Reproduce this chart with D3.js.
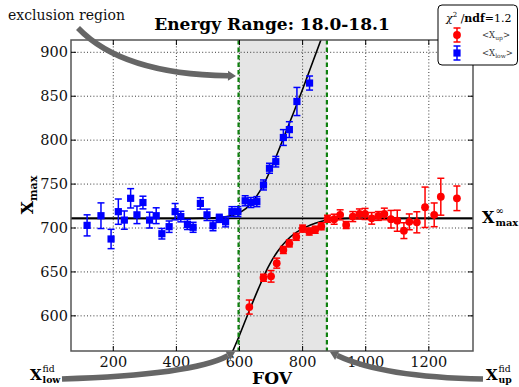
<!DOCTYPE html>
<html><head><meta charset="utf-8">
<script src="https://cdn.jsdelivr.net/npm/d3@7"></script>
<style>body{margin:0;background:#fff}svg{display:block}</style>
</head><body><svg id="c" width="519" height="387"></svg>
<script>
// ---- data ----
const blueFOV  = [117,161,193,216,235,255,275,294,315,336,354,377,396,414,435,453,476,497,516,536,556,576,595,618,636,655,676,695,715,739,758,782,822];
const blueXmax = [703,714,687.5,718.6,709,733.8,715,729,709,714,693.5,701.5,718.6,713,704,700.8,728,715,702.6,711,707,718.6,718.6,731,729,730,749,768,775.5,803,812,844,865];
const blueErr  = [12,14.6,11,14.4,10.4,11,10,7.2,9,9,6,6.5,9.3,6,5.7,5.7,6.5,6.5,5.7,4.6,5.7,5.7,5.7,5.7,5.7,5.7,5.7,5.7,6,9,9,16,8];

const redFOV   = [631,676,700,718,739,758,780,800,821,840,859,879,900,919,938,959,980,998,1019,1040,1059,1080,1100,1121,1138,1162,1188,1217,1238,1289];
const redXmax  = [610,643.4,645,660,675,682.5,690,699.3,696,698,702,710.5,710,715,703.4,713,716,716,711,713.7,716,710,708.3,697,707,706.5,723.6,715,735.6,733.8];
const redErr   = [8,4,6.6,5.7,4,4,4,4,4,4,4,4,5.7,5.7,4,5.7,5.7,6.3,6.6,5,6.6,10,12,9,9,12,23,13.5,21,14];

const blueFitFOV  = [66,450,520,560,590,620,650,680,710,740,770,800,830,860];
const blueFitXmax = [711,711,711.5,713,716,722,734,752,776,803,830,858,887,916];
const redFitFOV   = [575,600,630,660,690,720,750,780,810,840,870,900,950,1340];
const redFitXmax  = [557,578,605,631,655,673,686,695,701,705.5,708.5,710,711,711];

const xTicks = [200,400,600,800,1000,1200];
const yTicks = [600,650,700,750,800,850,900];
const xDomain = [66,1340];
const yDomain = [560,914];
const xmaxInf = 711;
const fidLow = 597, fidUp = 877;
const chi2ndf = "1.2";
const titleText = "Energy Range: 18.0-18.1";

// ---- layout ----
const svg = d3.select("#c");
const L=71, R=473, T=40, B=351;
const x = d3.scaleLinear().domain(xDomain).range([L,R]);
const y = d3.scaleLinear().domain(yDomain).range([B,T]);
const serif = "DejaVu Serif";

svg.append("clipPath").attr("id","clip").append("rect")
  .attr("x",L).attr("y",T).attr("width",R-L).attr("height",B-T);

// shaded exclusion region
svg.append("rect").attr("x",x(fidLow)).attr("y",T)
  .attr("width",x(fidUp)-x(fidLow)).attr("height",B-T).attr("fill","#e5e5e5");

// grid
const grid = svg.append("g").attr("stroke","#222").attr("stroke-width",0.9).attr("stroke-dasharray","1,2.2");
xTicks.forEach(t=>grid.append("line").attr("x1",x(t)).attr("x2",x(t)).attr("y1",T).attr("y2",B));
yTicks.forEach(t=>grid.append("line").attr("y1",y(t)).attr("y2",y(t)).attr("x1",L).attr("x2",R));

// flat line
const plot = svg.append("g").attr("clip-path","url(#clip)");
plot.append("line").attr("x1",L).attr("x2",R).attr("y1",y(xmaxInf)).attr("y2",y(xmaxInf))
  .attr("stroke","#000").attr("stroke-width",1.8);

// fit curves
const line = d3.line().x(d=>x(d[0])).y(d=>y(d[1])).curve(d3.curveMonotoneX);
plot.append("path").attr("d",line(blueFitFOV.map((f,i)=>[f,blueFitXmax[i]])))
  .attr("fill","none").attr("stroke","#000").attr("stroke-width",1.6);
plot.append("path").attr("d",line(redFitFOV.map((f,i)=>[f,redFitXmax[i]])))
  .attr("fill","none").attr("stroke","#000").attr("stroke-width",1.6);

// green dashed lines
[fidLow,fidUp].forEach(f=>svg.append("line").attr("x1",x(f)).attr("x2",x(f)).attr("y1",T).attr("y2",B)
  .attr("stroke","#0f800f").attr("stroke-width",2.2).attr("stroke-dasharray","4.5,3"));

// error bars + markers
function errbars(g, fov, val, err, col){
  fov.forEach((f,i)=>{
    const cx=x(f), y1=y(val[i]-err[i]), y2=y(val[i]+err[i]);
    g.append("line").attr("x1",cx).attr("x2",cx).attr("y1",y1).attr("y2",y2).attr("stroke",col).attr("stroke-width",1.5);
    [y1,y2].forEach(yy=>g.append("line").attr("x1",cx-3.5).attr("x2",cx+3.5).attr("y1",yy).attr("y2",yy).attr("stroke",col).attr("stroke-width",1.5));
  });
}
const gb = svg.append("g");
errbars(gb, blueFOV, blueXmax, blueErr, "#0000ff");
blueFOV.forEach((f,i)=>gb.append("rect").attr("x",x(f)-3.6).attr("y",y(blueXmax[i])-3.6).attr("width",7.2).attr("height",7.2).attr("fill","#0000ff"));
const gr = svg.append("g");
errbars(gr, redFOV, redXmax, redErr, "#ff0000");
redFOV.forEach((f,i)=>gr.append("circle").attr("cx",x(f)).attr("cy",y(redXmax[i])).attr("r",3.9).attr("fill","#ff0000"));

// frame
svg.append("rect").attr("x",L).attr("y",T).attr("width",R-L).attr("height",B-T)
  .attr("fill","none").attr("stroke","#555").attr("stroke-width",1.5);

// ticks (inward, all sides)
const tk = svg.append("g").attr("stroke","#000").attr("stroke-width",1);
xTicks.forEach(t=>{
  tk.append("line").attr("x1",x(t)).attr("x2",x(t)).attr("y1",B).attr("y2",B-5);
  tk.append("line").attr("x1",x(t)).attr("x2",x(t)).attr("y1",T).attr("y2",T+5);
});
yTicks.forEach(t=>{
  tk.append("line").attr("y1",y(t)).attr("y2",y(t)).attr("x1",L).attr("x2",L+5);
  tk.append("line").attr("y1",y(t)).attr("y2",y(t)).attr("x1",R).attr("x2",R-5);
});

// tick labels
xTicks.forEach(t=>svg.append("text").attr("x",x(t)).attr("y",366.5).attr("text-anchor","middle")
  .attr("font-family",serif).attr("font-size",14.5).attr("fill","#111").text(t));
yTicks.forEach(t=>svg.append("text").attr("x",68).attr("y",y(t)+5).attr("text-anchor","end")
  .attr("font-family",serif).attr("font-size",14.5).attr("fill","#111").text(t));

// title
svg.append("text").attr("x",272).attr("y",30).attr("text-anchor","middle").attr("font-family",serif)
  .attr("font-weight","bold").attr("font-size",17).text(titleText);

// axis labels
svg.append("text").attr("x",272).attr("y",384).attr("text-anchor","middle").attr("font-family",serif)
  .attr("font-weight","bold").attr("font-size",17).text("FOV");
const yl = svg.append("text").attr("transform","translate(33,195) rotate(-90)").attr("text-anchor","middle")
  .attr("font-family",serif).attr("font-weight","bold").attr("font-size",17);
yl.append("tspan").text("X");
yl.append("tspan").attr("font-size",11).attr("dy",4).text("max");

// X labels with sup/sub
function xlabel(px, py, sup, sub, sz){
  const g = svg.append("g").attr("font-family",serif).attr("font-weight","bold");
  g.append("text").attr("x",px).attr("y",py).attr("font-size",sz).text("X");
  g.append("text").attr("x",px+sz*0.84).attr("y",py-sz*0.56).attr("font-size",sz*0.62).attr("font-weight","normal").text(sup);
  g.append("text").attr("x",px+sz*0.84).attr("y",py+sz*0.2).attr("font-size",sz*0.62).text(sub);
}
xlabel(482,223,"∞","max",16);
xlabel(30,380,"fid","low",15);
xlabel(486,380,"fid","up",15);

// annotation text
svg.append("text").attr("x",8).attr("y",20).attr("font-family",serif).attr("font-size",14).attr("fill","#111").text("exclusion region");

// arrows
function arrow(p0,p1,p2){
  const path = d3.path(); path.moveTo(p0[0],p0[1]);
  const dx=p2[0]-p1[0], dy=p2[1]-p1[1], len=Math.hypot(dx,dy), ux=dx/len, uy=dy/len;
  const hl=8, hw=5;
  const e=[p2[0]-ux*hl, p2[1]-uy*hl];
  path.quadraticCurveTo(p1[0],p1[1],e[0],e[1]);
  svg.append("path").attr("d",path.toString()).attr("fill","none").attr("stroke","#666").attr("stroke-width",5.5);
  const nx=-uy, ny=ux;
  svg.append("path").attr("d",`M${p2[0]},${p2[1]}L${e[0]+nx*hw},${e[1]+ny*hw}L${e[0]-nx*hw},${e[1]-ny*hw}Z`).attr("fill","#666");
}
arrow([78,28],[122,74],[236,76]);
arrow([62,379],[192,375],[235,352]);
arrow([483,379],[383,377],[330,352]);

// legend
const lg = svg.append("g");
lg.append("rect").attr("x",438).attr("y",5).attr("width",79.5).attr("height",60).attr("rx",4)
  .attr("fill","#fff").attr("stroke","#000").attr("stroke-width",1);
const lt = lg.append("text").attr("x",446).attr("y",22).attr("font-family",serif).attr("font-size",11);
lt.append("tspan").attr("font-style","italic").text("χ");
lt.append("tspan").attr("font-size",7).attr("dy",-5).text("2");
lt.append("tspan").attr("dy",5).text(" /");
lt.append("tspan").attr("font-weight","bold").text("ndf");
lt.append("tspan").text("=" + chi2ndf);
function legItem(cy,col,shape,sub){
  lg.append("line").attr("x1",457).attr("x2",457).attr("y1",cy-7).attr("y2",cy+7).attr("stroke",col).attr("stroke-width",1.5);
  [cy-7,cy+7].forEach(yy=>lg.append("line").attr("x1",453.5).attr("x2",460.5).attr("y1",yy).attr("y2",yy).attr("stroke",col).attr("stroke-width",1.5));
  if(shape==="c") lg.append("circle").attr("cx",457).attr("cy",cy).attr("r",3.9).attr("fill",col);
  else lg.append("rect").attr("x",453.4).attr("y",cy-3.6).attr("width",7.2).attr("height",7.2).attr("fill",col);
  const t = lg.append("text").attr("x",482).attr("y",cy+3).attr("font-family",serif).attr("font-size",8.5).attr("fill","#333");
  t.append("tspan").text("<X");
  t.append("tspan").attr("font-size",6).attr("dy",2).text(sub);
  t.append("tspan").attr("dy",-2).text(">");
}
legItem(35,"#ff0000","c","up");
legItem(53,"#0000ff","s","low");
</script></body></html>
